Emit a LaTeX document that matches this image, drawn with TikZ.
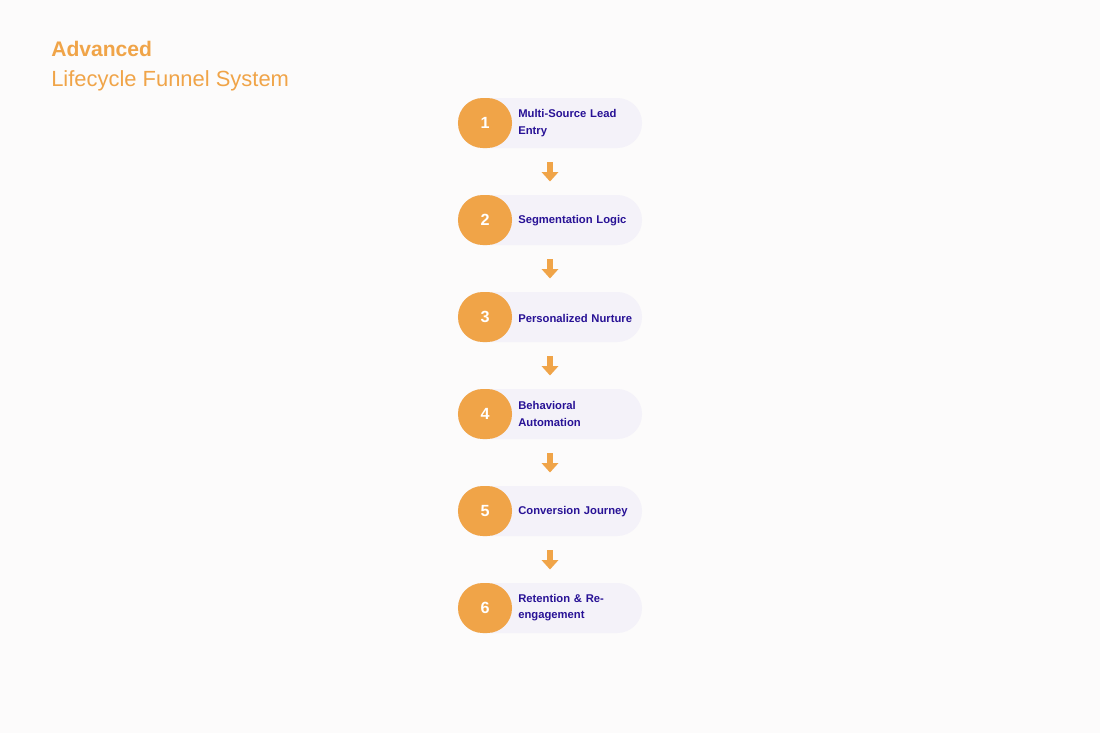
\documentclass[tikz,border=0pt]{standalone}
\usepackage{fontspec}
\setmainfont{Liberation Sans}
\usepackage{tikz}
\usetikzlibrary{arrows.meta, positioning}
\definecolor{myorange}{RGB}{240,164,72}
\definecolor{myink}{RGB}{40,18,150}
\definecolor{mypill}{RGB}{244,242,249}
\definecolor{mypaper}{RGB}{252,251,251}
\tikzset{
  pill/.style={rectangle, fill=mypill, minimum width=4.6cm, minimum height=1.25cm,
    rounded corners=0.62cm, inner sep=0pt},
  badge/.style={rectangle, fill=myorange, minimum width=1.35cm, minimum height=1.25cm,
    rounded corners=0.62cm, inner sep=0pt, text=white, font=\fontsize{11.5}{13}\selectfont\bfseries},
  label/.style={anchor=west, text=myink, text width=3cm, align=left, inner sep=0pt,
    font=\fontsize{8}{11.5}\selectfont\bfseries},
  flow/.style={-{Triangle[width=11.4pt, length=6.6pt]}, line width=3.6pt, color=myorange,
    shorten <=0.35cm, shorten >=0.33cm}
}
\begin{document}
\begin{tikzpicture}[x=0.025cm, y=-0.025cm]
  \fill[mypaper] (0,0) rectangle (1100,733);
  \useasboundingbox (0,0) rectangle (1100,733);

  % Title
  \node[anchor=base west, inner sep=0pt, text=myorange, font=\fontsize{15}{18}\selectfont\bfseries] (ttl1) at (51,56) {Advanced};
  \node[anchor=base west, inner sep=0pt, text=myorange, font=\fontsize{15.6}{18}\selectfont] (ttl2) at (51,86) {Lifecycle Funnel System};

  % Steps
  \node[pill] (s1) at (550,123) {};
  \node[badge] (b1) at (485,123) {1};
  \node[label] (t1) at (518,123) {Multi-Source Lead\\Entry};

  \node[pill] (s2) at (550,220) {};
  \node[badge] (b2) at (485,220) {2};
  \node[label] (t2) at (518,221) {Segmentation Logic};

  \node[pill] (s3) at (550,317) {};
  \node[badge] (b3) at (485,317) {3};
  \node[label] (t3) at (518,318) {Personalized Nurture};

  \node[pill] (s4) at (550,414) {};
  \node[badge] (b4) at (485,414) {4};
  \node[label] (t4) at (518,414) {Behavioral\\Automation};

  \node[pill] (s5) at (550,511) {};
  \node[badge] (b5) at (485,511) {5};
  \node[label] (t5) at (518,512) {Conversion Journey};

  \node[pill] (s6) at (550,608) {};
  \node[badge] (b6) at (485,608) {6};
  \node[label] (t6) at (518,608) {Retention \& Re-\\engagement};

  % Arrows
  \draw[flow] (s1) -- (s2);
  \draw[flow] (s2) -- (s3);
  \draw[flow] (s3) -- (s4);
  \draw[flow] (s4) -- (s5);
  \draw[flow] (s5) -- (s6);
\end{tikzpicture}
\end{document}
